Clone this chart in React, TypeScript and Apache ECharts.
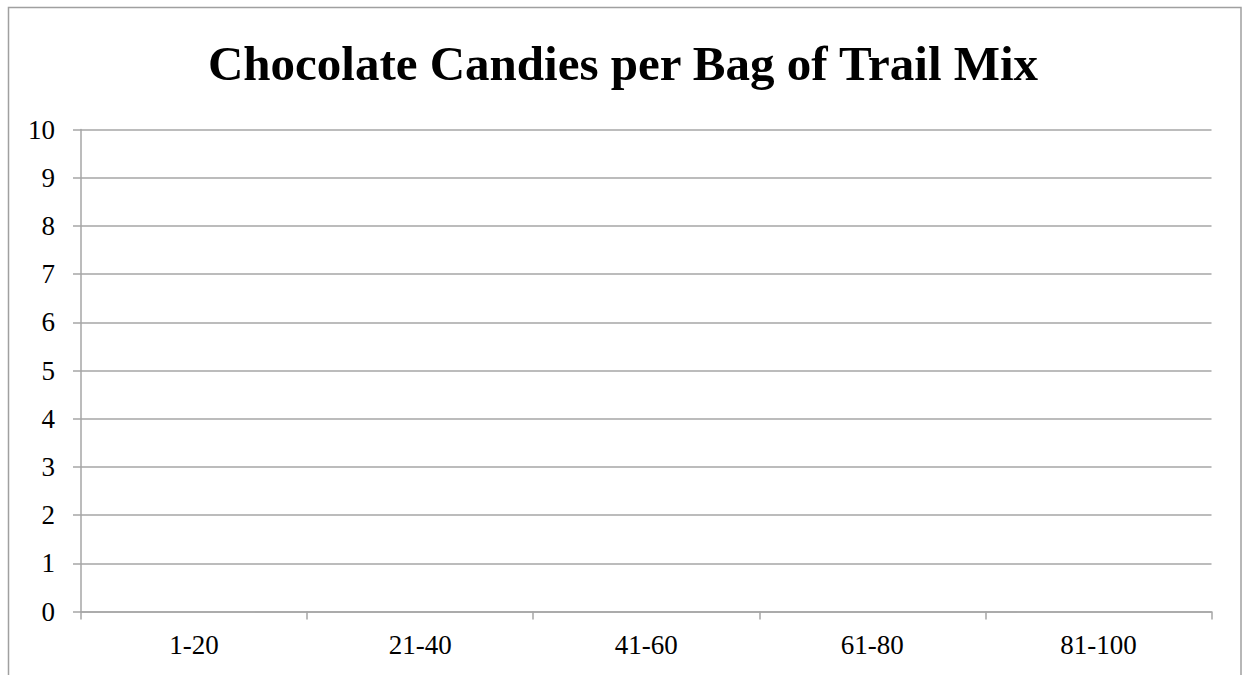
import React, { useEffect, useRef } from "react";
import * as echarts from "echarts";

const titleText = "Chocolate Candies per Bag of Trail Mix";
const categories = ["1-20", "21-40", "41-60", "61-80", "81-100"];
const candyCounts = [0, 0, 0, 0, 0];
const yMin = 0;
const yMax = 10;
const yInterval = 1;

export default function App() {
  const ref = useRef<HTMLDivElement>(null);
  useEffect(() => {
    if (!ref.current) return;
    const chart = echarts.init(ref.current, undefined, { renderer: "svg" });
    const gray = "#a6a6a6";
    const font = "'Liberation Serif', 'DejaVu Serif', serif";
    chart.setOption({
      animation: false,
      backgroundColor: "#ffffff",
      title: {
        text: titleText,
        left: "center",
        top: 34,
        textStyle: {
          fontFamily: font,
          fontWeight: "bold",
          fontSize: 49,
          color: "#000000",
        },
      },
      graphic: [
        {
          type: "rect",
          shape: { x: 8.5, y: 7.5, width: 1232.5, height: 720 },
          style: { fill: "none", stroke: "#a0a0a0", lineWidth: 1.5 },
          silent: true,
        },
      ],
      grid: { left: 81, right: 34.5, top: 129.5, bottom: 63.5, containLabel: false },
      xAxis: {
        type: "category",
        data: categories,
        boundaryGap: true,
        axisLine: { show: true, lineStyle: { color: gray, width: 1.5 } },
        axisTick: { show: true, length: 8, lineStyle: { color: gray, width: 1.5 } },
        axisLabel: { fontFamily: font, fontSize: 27, color: "#000000", margin: 20 },
        splitLine: { show: false },
      },
      yAxis: {
        type: "value",
        min: yMin,
        max: yMax,
        interval: yInterval,
        axisLine: { show: true, lineStyle: { color: gray, width: 1.5 } },
        axisTick: { show: true, length: 8, lineStyle: { color: gray, width: 1.5 } },
        axisLabel: { fontFamily: font, fontSize: 27, color: "#000000", margin: 26 },
        splitLine: { show: true, lineStyle: { color: gray, width: 1.5 } },
      },
      series: [
        {
          type: "bar",
          data: candyCounts,
          barCategoryGap: "0%",
          itemStyle: { color: "#4f81bd" },
        },
      ],
    });
    return () => chart.dispose();
  }, []);
  return (
    <div
      ref={ref}
      style={{ position: "fixed", left: 0, top: 0, width: 1246, height: 675 }}
    />
  );
}
